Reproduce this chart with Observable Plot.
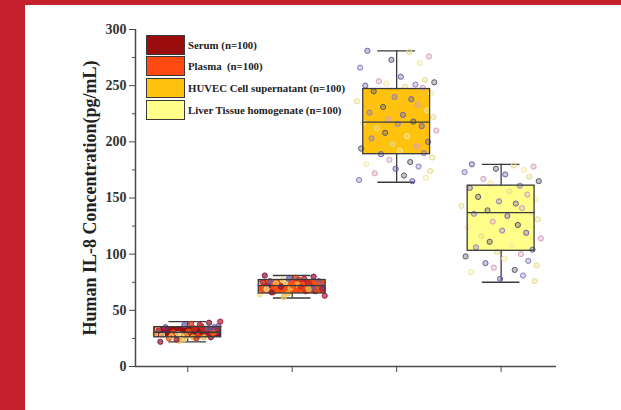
<!DOCTYPE html>
<html><head><meta charset="utf-8">
<script src="https://cdn.jsdelivr.net/npm/d3@7"></script>
<script src="https://cdn.jsdelivr.net/npm/@observablehq/plot@0.6"></script>
<style>
html,body{margin:0;padding:0;}
body{width:621px;height:410px;background:#c61f2d;position:relative;overflow:hidden;font-family:"Liberation Serif","Times New Roman",serif;}
#panel{position:absolute;left:25px;top:5px;width:596px;height:405px;background:#fff;}
#chart{position:absolute;left:0;top:0;}
#legend{position:absolute;left:121px;top:29px;}
.item{display:flex;align-items:center;height:21.6px;}
.sw{width:37px;height:18px;border:1px solid #3a3a3a;margin-right:3px;flex:none;}
.lab{font-weight:bold;font-size:10.8px;white-space:pre;color:#222;}
</style></head>
<body>
<div id="panel"><div id="chart"></div><div id="legend"></div></div>
<script>
const categories = ["Serum (n=100)", "Plasma  (n=100)", "HUVEC Cell supernatant (n=100)", "Liver Tissue homogenate (n=100)"];
const boxFills = ["#9b0d0d", "#ff4a12", "#ffc20e", "#ffff8a"];
const boxMin = [22, 61, 164, 75];
const boxQ1 = [26, 65, 189, 103];
const boxMedian = [30.5, 72, 217.5, 137];
const boxQ3 = [35, 77, 247, 161];
const boxMax = [40, 81, 281, 180];
const yTicks = [0, 50, 100, 150, 200, 250, 300];
const yMinorTicks = [25, 75, 125, 175, 225, 275];

const serumValues = [31, 27, 35, 24, 29, 33, 38, 26, 30, 36, 23, 32, 28, 34, 39, 25, 31, 27, 37, 29, 33, 24, 30, 35, 26, 32, 28, 36, 22, 31, 34, 27, 40, 29, 25, 33, 30, 37, 26, 32];
const plasmaValues = [72, 68, 76, 65, 71, 74, 79, 67, 73, 70, 62, 75, 69, 77, 80, 66, 72, 70, 78, 64, 74, 71, 68, 76, 73, 69, 75, 67, 81, 72, 70, 74, 63, 77, 71, 66, 73, 78, 69, 75];
const huvecValues = [281, 280, 276, 273, 270, 266, 258, 255, 254, 253, 252, 251, 250, 249, 248, 245, 243, 240, 238, 236, 233, 231, 228, 226, 224, 222, 220, 218, 217, 216, 214, 212, 210, 208, 205, 203, 200, 198, 196, 194, 192, 190, 189, 186, 184, 182, 180, 178, 176, 174, 172, 170, 168, 166, 165];
const liverValues = [180, 179, 178, 176, 175, 173, 171, 169, 167, 165, 163, 161, 159, 156, 153, 151, 149, 147, 145, 143, 141, 139, 137, 136, 134, 131, 129, 126, 124, 121, 119, 116, 114, 111, 108, 106, 104, 102, 100, 98, 96, 94, 92, 90, 88, 86, 84, 81, 78, 76];
const jitter = [-0.28, 0.12, 0.31, -0.05, 0.22, -0.35, 0.04, 0.27, -0.17, 0.36, -0.1, 0.18, -0.3, 0.08, 0.25, -0.22, 0.33, -0.02, 0.14, -0.38, 0.2, -0.13, 0.29, -0.26, 0.06, 0.35, -0.08, 0.16, -0.32, 0.01, 0.24, -0.19, 0.38, -0.11, 0.1, -0.24, 0.3, -0.04, 0.19, -0.34, 0.03, 0.26, -0.15, 0.34, -0.07, 0.13, -0.29, 0.21, -0.01, 0.32, -0.21, 0.07, 0.28, -0.36, 0.15, -0.09, 0.23, -0.27, 0.05, 0.37];
const groupSpread = [0.82, 0.82, 1, 1];
const warmPalette = ["#8b1a3a", "#e8581a", "#6f5fa8", "#f2c14e", "#b0223a", "#f7e08a", "#c8321e"];
const coolPalette = ["#6f5fa8", "#e8dc8c", "#d7a0bd", "#59596b", "#f3e9a6", "#8d7fc0"];

const boxes = categories.map((c, i) => ({
  i: i + 1, name: c, fill: boxFills[i],
  min: boxMin[i], q1: boxQ1[i], med: boxMedian[i], q3: boxQ3[i], max: boxMax[i]
}));
const groups = [serumValues, plasmaValues, huvecValues, liverValues];
const points = [];
groups.forEach((vals, g) => {
  const pal = g < 2 ? warmPalette : coolPalette;
  vals.forEach((v, k) => points.push({x: g + 1 + groupSpread[g] * jitter[k % jitter.length], y: v, c: pal[k % pal.length], op: g < 2 ? 0.7 : 0.35}));
});

const half = 0.32, cap = 0.18;
const stroke = "#3a3a3a";
const chart = Plot.plot({
  width: 596, height: 405,
  marginLeft: 110, marginTop: 24, marginBottom: 44, marginRight: 65,
  x: {type: "linear", domain: [0.5, 4.53]},
  y: {domain: [0, 300]},
  color: {type: "identity"},
  style: {fontFamily: "'Liberation Serif', 'Times New Roman', serif", fontWeight: "bold", fontSize: "14px", color: "#333", background: "transparent"},
  marks: [
    Plot.rect(boxes, {x1: d => d.i - half, x2: d => d.i + half, y1: "q1", y2: "q3", fill: "fill"}),
    Plot.ruleX(boxes, {x: "i", y1: "q3", y2: "max", stroke, strokeWidth: 1.3}),
    Plot.ruleX(boxes, {x: "i", y1: "min", y2: "q1", stroke, strokeWidth: 1.3}),
    Plot.ruleY(boxes, {y: "max", x1: d => d.i - cap, x2: d => d.i + cap, stroke, strokeWidth: 1.3}),
    Plot.ruleY(boxes, {y: "min", x1: d => d.i - cap, x2: d => d.i + cap, stroke, strokeWidth: 1.3}),
    Plot.dot(points, {x: "x", y: "y", r: 2.6, stroke: "c", fill: "c", fillOpacity: "op", strokeWidth: 1}),
    Plot.rect(boxes, {x1: d => d.i - half, x2: d => d.i + half, y1: "q1", y2: "q3", fill: "none", stroke, strokeWidth: 1.3}),
    Plot.ruleY(boxes, {y: "med", x1: d => d.i - half, x2: d => d.i + half, stroke, strokeWidth: 1.3}),
    Plot.ruleY([0], {stroke: "#4a4a4a", strokeWidth: 1.5}),
    Plot.ruleX([0.5], {y1: 0, y2: 300, stroke: "#4a4a4a", strokeWidth: 1.5}),
    Plot.axisY({ticks: yTicks, tickSize: 6, tickPadding: 3, label: null, stroke: "#4a4a4a"}),
    Plot.axisY({ticks: yMinorTicks, tickSize: 3, tickFormat: () => "", label: null, stroke: "#4a4a4a"}),
    Plot.axisX({ticks: [1, 2, 3, 4], tickSize: 6, tickFormat: () => "", label: null, stroke: "#4a4a4a"}),
    Plot.text(["Human IL-8 Concentration(pg/mL)"], {frameAnchor: "left", dx: -45, rotate: -90, textAnchor: "middle", fontSize: 18, fontWeight: "bold", fill: "#222"})
  ]
});
document.getElementById("chart").appendChild(chart);

const legend = document.getElementById("legend");
categories.forEach((c, i) => {
  const it = document.createElement("div");
  it.className = "item";
  it.innerHTML = `<div class="sw" style="background:${boxFills[i]}"></div><span class="lab"></span>`;
  it.querySelector(".lab").textContent = c;
  legend.appendChild(it);
});
</script>
</body></html>
